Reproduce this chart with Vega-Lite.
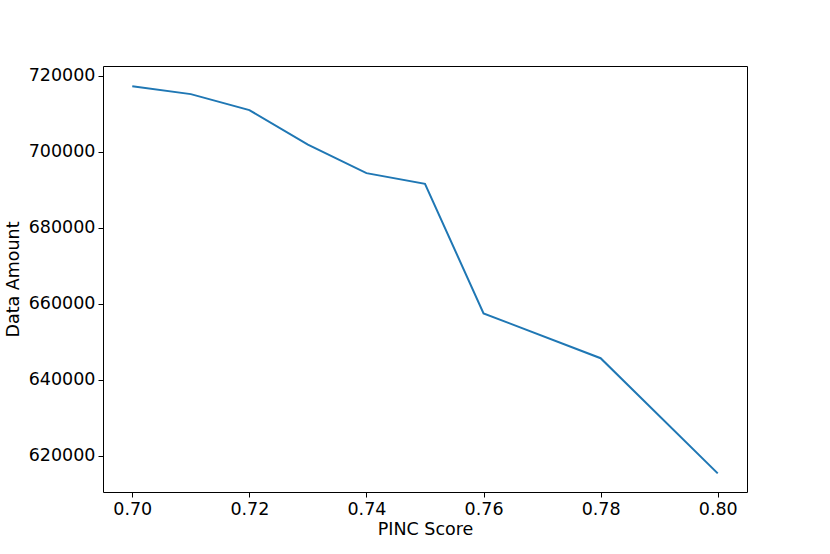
{
  "$schema": "https://vega.github.io/schema/vega-lite/v6.json",
  "autosize": "none",
  "width": 644,
  "height": 426,
  "padding": {"left": 103, "top": 66, "right": 83, "bottom": 62},
  "background": "white",
  "config": {
    "view": {"stroke": "black", "strokeWidth": 1},
    "font": "DejaVu Sans",
    "axis": {
      "grid": false,
      "domain": false,
      "tickColor": "black",
      "tickSize": 5,
      "tickWidth": 1,
      "labelColor": "black",
      "labelFontSize": 17.5,
      "labelFont": "DejaVu Sans",
      "titleFont": "DejaVu Sans",
      "titleFontSize": 17.5,
      "titleFontWeight": "normal",
      "titleColor": "black",
      "labelPadding": 3
    }
  },
  "data": {
    "values": [
      {"score": 0.70, "amount": 717200},
      {"score": 0.71, "amount": 715100},
      {"score": 0.72, "amount": 710900},
      {"score": 0.73, "amount": 701800},
      {"score": 0.74, "amount": 694300},
      {"score": 0.75, "amount": 691500},
      {"score": 0.76, "amount": 657400},
      {"score": 0.78, "amount": 645600},
      {"score": 0.80, "amount": 615300}
    ]
  },
  "mark": {"type": "line", "color": "#1f77b4", "strokeWidth": 2},
  "encoding": {
    "x": {
      "field": "score",
      "type": "quantitative",
      "scale": {"domain": [0.695, 0.805], "nice": false, "zero": false},
      "axis": {"title": "PINC Score", "values": [0.70, 0.72, 0.74, 0.76, 0.78, 0.80], "format": ".2f", "titlePadding": 3}
    },
    "y": {
      "field": "amount",
      "type": "quantitative",
      "scale": {"domain": [610400, 722500], "nice": false, "zero": false},
      "axis": {"title": "Data Amount", "values": [620000, 640000, 660000, 680000, 700000, 720000], "format": "d", "titlePadding": 6}
    }
  }
}
